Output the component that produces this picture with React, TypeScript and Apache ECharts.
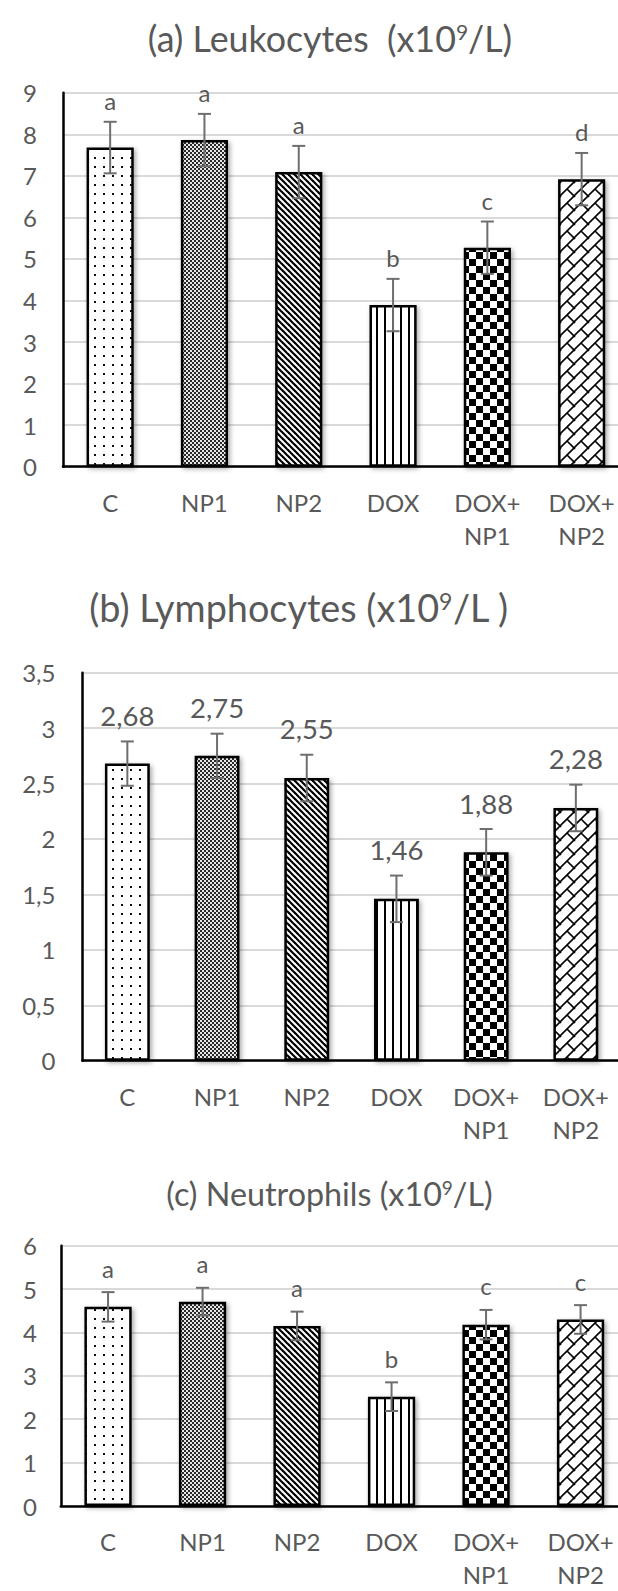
import React, { useEffect, useRef } from 'react';
import * as echarts from 'echarts';

// ---------- data ----------
const categories = ['C', 'NP1', 'NP2', 'DOX', 'DOX+\nNP1', 'DOX+\nNP2'];

const leukocytesMean = [7.68, 7.86, 7.09, 3.89, 5.27, 6.92];
const leukocytesErr = [0.62, 0.63, 0.63, 0.63, 0.63, 0.63];
const leukocytesLetters = ['a', 'a', 'a', 'b', 'c', 'd'];

const lymphocytesMean = [2.68, 2.75, 2.55, 1.46, 1.88, 2.28];
const lymphocytesErr = [0.2, 0.2, 0.21, 0.21, 0.21, 0.21];

const neutrophilsMean = [4.59, 4.71, 4.15, 2.52, 4.18, 4.3];
const neutrophilsErr = [0.34, 0.32, 0.33, 0.33, 0.34, 0.33];
const neutrophilsLetters = ['a', 'a', 'a', 'b', 'c', 'c'];

const yMax = [9, 3.5, 6];
const yInterval = [1, 0.5, 1];

const titleMain = ['(a) Leukocytes  (x10', '(b) Lymphocytes (x10', '(c) Neutrophils (x10'];
const titleTail = ['/L)', '/L )', '/L)'];
const titleSup = '9';

const fmt = (v: number) => String(v).replace('.', ',');
const lymphLabels = lymphocytesMean.map((v) => v.toFixed(2).replace('.', ','));

// ---------- layout / styles ----------
const layout = [
  { left: 63, top: 92.7, width: 565.8, height: 374, margin: 26, gap: 21, fs: 24, tx: 330, ty: 38, tfs: 35.8 },
  { left: 82.5, top: 672.7, width: 538.2, height: 388, margin: 27, gap: 26, fs: 27.5, tx: 299, ty: 607, tfs: 37.8 },
  { left: 60.8, top: 1245.7, width: 567, height: 273.6, margin: 24, gap: 24, fs: 24, tx: 329.5, ty: 1193, tfs: 32.3 },
];

const TEXT = '#595959';
const FONT = 'Lato, "Open Sans", sans-serif';
const TICK_FS = 24;

function tile(w: number, h: number, draw: (c: CanvasRenderingContext2D) => void) {
  const c = document.createElement('canvas');
  c.width = w;
  c.height = h;
  const ctx = c.getContext('2d') as CanvasRenderingContext2D;
  ctx.fillStyle = '#ffffff';
  ctx.fillRect(0, 0, w, h);
  draw(ctx);
  return { image: c, repeat: 'repeat', imageWidth: w, imageHeight: h } as any;
}

function makePatterns() {
  const dots = tile(9, 9, (c) => {
    c.fillStyle = '#111';
    c.fillRect(4, 4, 2, 2);
  });
  const fine = tile(4, 4, (c) => {
    c.fillStyle = '#2a2a2a';
    c.fillRect(0, 0, 4, 4);
    c.fillStyle = '#e6e6e6';
    c.fillRect(0, 0, 2, 2);
    c.fillRect(2, 2, 2, 2);
  });
  const diag = tile(6, 6, (c) => {
    c.strokeStyle = '#000';
    c.lineWidth = 2.2;
    for (let k = -12; k <= 12; k += 6) {
      c.beginPath();
      c.moveTo(k - 2, -2);
      c.lineTo(k + 8, 8);
      c.stroke();
    }
  });
  const vert = tile(8, 4, (c) => {
    c.fillStyle = '#000';
    c.fillRect(0, 0, 2, 4);
  });
  const checker = tile(14, 14, (c) => {
    c.fillStyle = '#000';
    c.fillRect(0, 0, 7, 7);
    c.fillRect(7, 7, 7, 7);
  });
  const brick = tile(14, 14, (c) => {
    c.strokeStyle = '#000';
    c.lineWidth = 1.6;
    for (const s of [0, 14, 28]) {
      c.beginPath();
      c.moveTo(s + 2, -2);
      c.lineTo(s - 16, 16);
      c.stroke();
    }
    c.beginPath();
    c.moveTo(7, 7);
    c.lineTo(15, 15);
    c.stroke();
    c.beginPath();
    c.moveTo(-7, -7);
    c.lineTo(1, 1);
    c.stroke();
  });
  return [dots, fine, diag, vert, checker, brick];
}

export default function App() {
  const ref = useRef<HTMLDivElement>(null);

  useEffect(() => {
    if (!ref.current) return;
    const chart = echarts.init(ref.current, undefined, { renderer: 'svg' });
    const patterns = makePatterns();

    const means = [leukocytesMean, lymphocytesMean, neutrophilsMean];
    const errs = [leukocytesErr, lymphocytesErr, neutrophilsErr];
    const labels = [leukocytesLetters, lymphLabels, neutrophilsLetters];

    const grid: any[] = [];
    const xAxis: any[] = [];
    const yAxis: any[] = [];
    const series: any[] = [];
    const graphic: any[] = [];

    for (let i = 0; i < 3; i++) {
      const L = layout[i];
      grid.push({ left: L.left, top: L.top, width: L.width, height: L.height, containLabel: false });
      xAxis.push({
        type: 'category',
        gridIndex: i,
        data: categories,
        axisLine: { show: true, lineStyle: { color: '#000', width: 2.5 } },
        axisTick: { show: false },
        splitLine: { show: false },
        axisLabel: {
          interval: 0,
          color: TEXT,
          fontSize: TICK_FS,
          fontFamily: FONT,
          lineHeight: 33,
          margin: 19,
        },
      });
      yAxis.push({
        type: 'value',
        gridIndex: i,
        min: 0,
        max: yMax[i],
        interval: yInterval[i],
        axisLine: { show: true, lineStyle: { color: '#000', width: 2.5 } },
        axisTick: { show: false },
        splitLine: { show: true, lineStyle: { color: '#d9d9d9', width: 1.8 } },
        axisLabel: {
          color: TEXT,
          fontSize: TICK_FS,
          fontFamily: FONT,
          margin: L.margin,
          formatter: (v: number) => fmt(v),
        },
      });
      series.push({
        type: 'bar',
        xAxisIndex: i,
        yAxisIndex: i,
        barWidth: '50%',
        silent: true,
        data: means[i].map((v, j) => ({ value: v, itemStyle: { color: patterns[j] } })),
        itemStyle: {
          borderColor: '#000',
          borderWidth: 2.5,
          shadowBlur: 5,
          shadowColor: 'rgba(0,0,0,0.35)',
          shadowOffsetX: 2,
          shadowOffsetY: 2,
        },
      });
      const labs = labels[i];
      series.push({
        type: 'custom',
        xAxisIndex: i,
        yAxisIndex: i,
        silent: true,
        clip: false,
        z: 5,
        encode: { x: 0, y: [1, 2] },
        data: means[i].map((m, j) => [j, m - errs[i][j], m + errs[i][j]]),
        renderItem: (params: any, api: any) => {
          const idx = api.value(0);
          const hi = api.coord([idx, api.value(2)]);
          const lo = api.coord([idx, api.value(1)]);
          const cap = 6.5;
          const ls = { stroke: '#6e6e6e', lineWidth: 2 };
          return {
            type: 'group',
            children: [
              { type: 'line', shape: { x1: hi[0], y1: hi[1], x2: lo[0], y2: lo[1] }, style: ls },
              { type: 'line', shape: { x1: hi[0] - cap, y1: hi[1], x2: hi[0] + cap, y2: hi[1] }, style: ls },
              { type: 'line', shape: { x1: lo[0] - cap, y1: lo[1], x2: lo[0] + cap, y2: lo[1] }, style: ls },
              {
                type: 'text',
                x: hi[0],
                y: hi[1] - L.gap,
                style: {
                  text: labs[params.dataIndex],
                  fill: TEXT,
                  fontSize: L.fs,
                  fontFamily: FONT,
                  align: 'center',
                  verticalAlign: 'middle',
                },
              },
            ],
          };
        },
      });
      graphic.push({
        type: 'text',
        x: L.tx,
        y: L.ty,
        silent: true,
        style: {
          text: `{m|${titleMain[i]}}{s|${titleSup}}{m|${titleTail[i]}}`,
          fill: TEXT,
          align: 'center',
          verticalAlign: 'middle',
          rich: {
            m: { fill: TEXT, fontSize: L.tfs, fontFamily: FONT, lineHeight: Math.round(L.tfs * 1.2) },
            s: {
              fill: TEXT,
              fontSize: Math.round(L.tfs * 0.6),
              fontFamily: FONT,
              lineHeight: Math.round(L.tfs * 0.6),
              verticalAlign: 'top',
              padding: [Math.round(L.tfs * 0.12), 0, 0, 0],
            },
          },
        },
      });
    }

    chart.setOption({
      animation: false,
      backgroundColor: '#ffffff',
      textStyle: { fontFamily: FONT },
      grid,
      xAxis,
      yAxis,
      series,
      graphic,
    });

    return () => chart.dispose();
  }, []);

  return (
    <div
      style={{
        position: 'fixed',
        left: 0,
        top: 0,
        width: 618,
        height: 1591,
        overflow: 'hidden',
        background: '#fff',
      }}
    >
      <div ref={ref} style={{ position: 'absolute', left: 0, top: 0, width: 640, height: 1591 }} />
    </div>
  );
}
